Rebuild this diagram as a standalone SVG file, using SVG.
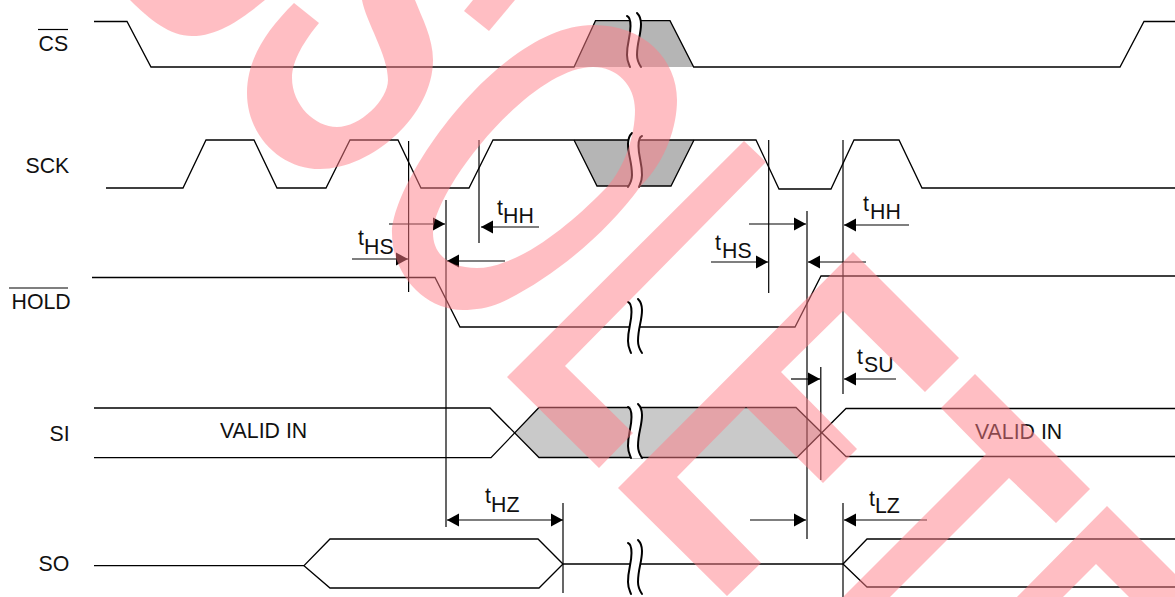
<svg xmlns="http://www.w3.org/2000/svg" xmlns:xlink="http://www.w3.org/1999/xlink" width="1175" height="597" viewBox="0 0 1175 597">
<style>
text{font-family:"Liberation Sans",Arial,sans-serif;font-size:21.3px;fill:#111}
.w{fill:none;stroke:#000;stroke-width:1.3;stroke-linejoin:miter}
.v{fill:none;stroke:#000;stroke-width:1.2}
.a{fill:none;stroke:#000;stroke-width:1.2;marker-end:url(#ah)}
.d{fill:none;stroke:#000;stroke-width:1.2;marker-end:url(#ah);marker-start:url(#ah)}
.g1{fill:#b5b5b5}
.g2{fill:#c9c9c9}
.wm{fill:rgb(255,125,135);fill-opacity:.5}
.bk{fill:none;stroke:#000;stroke-width:2;stroke-linecap:round}
</style>
<defs>
<marker id="ah" markerUnits="userSpaceOnUse" markerWidth="14" markerHeight="15" viewBox="0 -7.5 14 15" refX="13" refY="0" orient="auto-start-reverse"><path d="M1,-6.5 L13,0 L1,6.5 Z" fill="#000"/></marker>
<g id="brk">
<path d="M0,3 C3,4 3.5,8 3.5,13 C3.5,24 0,29 0,42 C0,48 2,51 3,54 L14,54 C12,51 10,47 10,42 C10,29 14,22 14,11 C14,6 12,2 10,0 Z" fill="#fff"/>
<path class="bk" d="M0,3 C3,4 3.5,8 3.5,13 C3.5,24 0,29 0,42 C0,48 2,51 3,54"/>
<path class="bk" d="M10,0 C12,2 14,6 14,11 C14,22 10,29 10,42 C10,47 12,51 14,54"/>
</g>
</defs>

<g id="sig-cs">
<polygon class="g1" points="574,67 595.5,20.7 670,20.7 693.7,67"/>
<path class="w" d="M94,21.5 H127 L151,67 H574 L595.5,20.7 H670 L693.7,67 H1120 L1144,21.5 H1175"/>
<use xlink:href="#brk" href="#brk" x="627" y="13"/>
<text x="38.5" y="50.5">CS</text>
<path class="v" d="M38,29.5 H68"/>
</g>

<g id="sig-sck">
<polygon class="g1" points="574,140 597,186 671,186 694,140"/>
<path class="w" d="M106,188 H183 L206,140 H254 L277,188 H326 L350,140 H398 L421,188 H469 L493,140 H756 L779,189 H831 L854,140 H899 L922,188 H1175"/>
<path class="w" d="M574,140 L597,186 H671 L694,140"/>
<use xlink:href="#brk" href="#brk" transform="translate(642,133) scale(-1,1)"/>
<text x="25.5" y="173">SCK</text>
</g>

<g id="sig-hold">
<path class="w" d="M92,277.5 H435 L460,327 H795 L821,276 H1175"/>
<use xlink:href="#brk" href="#brk" x="628" y="299"/>
<text x="11.5" y="309">HOLD</text>
<path class="v" d="M9,288 H68"/>
</g>

<g id="sig-si">
<polygon class="g2" points="515,433 539,407.5 796,407.5 821,433 797,457.5 539,457.5"/>
<path class="w" d="M94,408 H490 L539,457.5 H797 L846,408.5 H1175"/>
<path class="w" d="M94,457.7 H491 L539,407.5 H796 L846,456.5 H1175"/>
<use xlink:href="#brk" href="#brk" x="628" y="404"/>
<text x="49.5" y="441">SI</text>
<text x="220" y="437.5">VALID IN</text>
<text x="975" y="438.5">VALID IN</text>
</g>

<g id="sig-so">
<path class="w" d="M94,565.7 H304 L330,539 H538 L563,564 H843 L867,539 H1175"/>
<path class="w" d="M304,565.7 L330,588 H539 L563,564 M843,564 L867,587 H1175"/>
<use xlink:href="#brk" href="#brk" x="628" y="540"/>
<text x="38.5" y="570.5">SO</text>
</g>

<g id="connectors">
<path class="v" d="M408.6,141 V292"/>
<path class="v" stroke-width="1.4" d="M446,200 V527"/>
<path class="v" d="M479,140 V243"/>
<path class="v" d="M768.7,140 V293"/>
<path class="v" d="M807,211 V539"/>
<path class="v" d="M843,140 V394"/>
<path class="v" d="M820.8,367 V480"/>
<path class="v" d="M563,503 V593"/>
<path class="v" d="M843,503 V597"/>
<path class="a" d="M389,224 H445"/>
<path class="a" d="M352,259 H408"/>
<path class="a" d="M505,261 H447"/>
<path class="a" d="M539,227 H481"/>
<path class="a" d="M749,224 H806"/>
<path class="a" d="M711,262 H768"/>
<path class="a" d="M866,262 H808"/>
<path class="a" d="M909,225 H844"/>
<path class="a" d="M791,379 H820"/>
<path class="a" d="M896,379 H844"/>
<path class="d" d="M447,520 H563"/>
<path class="a" d="M750,520 H806"/>
<path class="a" d="M927,520 H844"/>
</g>

<g id="timing-labels">
<text x="358" y="245">t</text><text x="364" y="253.5">HS</text>
<text x="497" y="215">t</text><text x="503" y="222.5">HH</text>
<text x="715" y="250">t</text><text x="722" y="257.5">HS</text>
<text x="863" y="211">t</text><text x="870" y="219">HH</text>
<text x="857" y="364">t</text><text x="864" y="371.5">SU</text>
<text x="485" y="503">t</text><text x="491" y="511.5">HZ</text>
<text x="869" y="505.5">t</text><text x="875" y="513">LZ</text>
</g>

<g id="watermark" class="wm">
<path d="M130,0 C150,20 170,36 192,36 C220,36 245,16 265,0 Z"/>
<path d="M294,3 C265,32 247,60 247,93 C247,135 280,169 320,169 C372,169 433,115 433,60 C433,38 422,18 415,0 L362,0 C366,22 388,55 388,80 C388,100 360,127 337,127 C315,127 292,105 292,78 C292,60 305,40 319,23 Z"/>
<polygon points="473,0 515,0 489,31 464,11"/>
<path fill-rule="evenodd" d="M593,25 C645,25 677,60 677,100 C677,125 667,160 640,187 C605,235 550,280 500,303 C488,308 475,310 463,310 C425,310 392,275 392,233 C392,180 500,25 593,25 Z M593,67 C530,67 433,190 433,233 C433,255 450,268 477,268 C486,268 495,266 505,262 C540,250 580,215 607,187 C625,167 635,135 635,110 C635,85 617,67 593,67 Z"/>
<polygon points="744,141 766,162 565,366 633,433 599,468 507,377"/>
<polygon points="618,488 853,252 959,358 925,392 843,311 781,372 857,449 823,483 746,407 677,477 761,563 727,596 618,488"/>
<polygon points="975,374 1090,489 1056,523 1009,478 890,597 843,597 986,454 941,408"/>
<polygon points="1107,506 1175,574 1175,597 1129,597 1096,564 1063,597 1017,597"/>
</g>
</svg>
